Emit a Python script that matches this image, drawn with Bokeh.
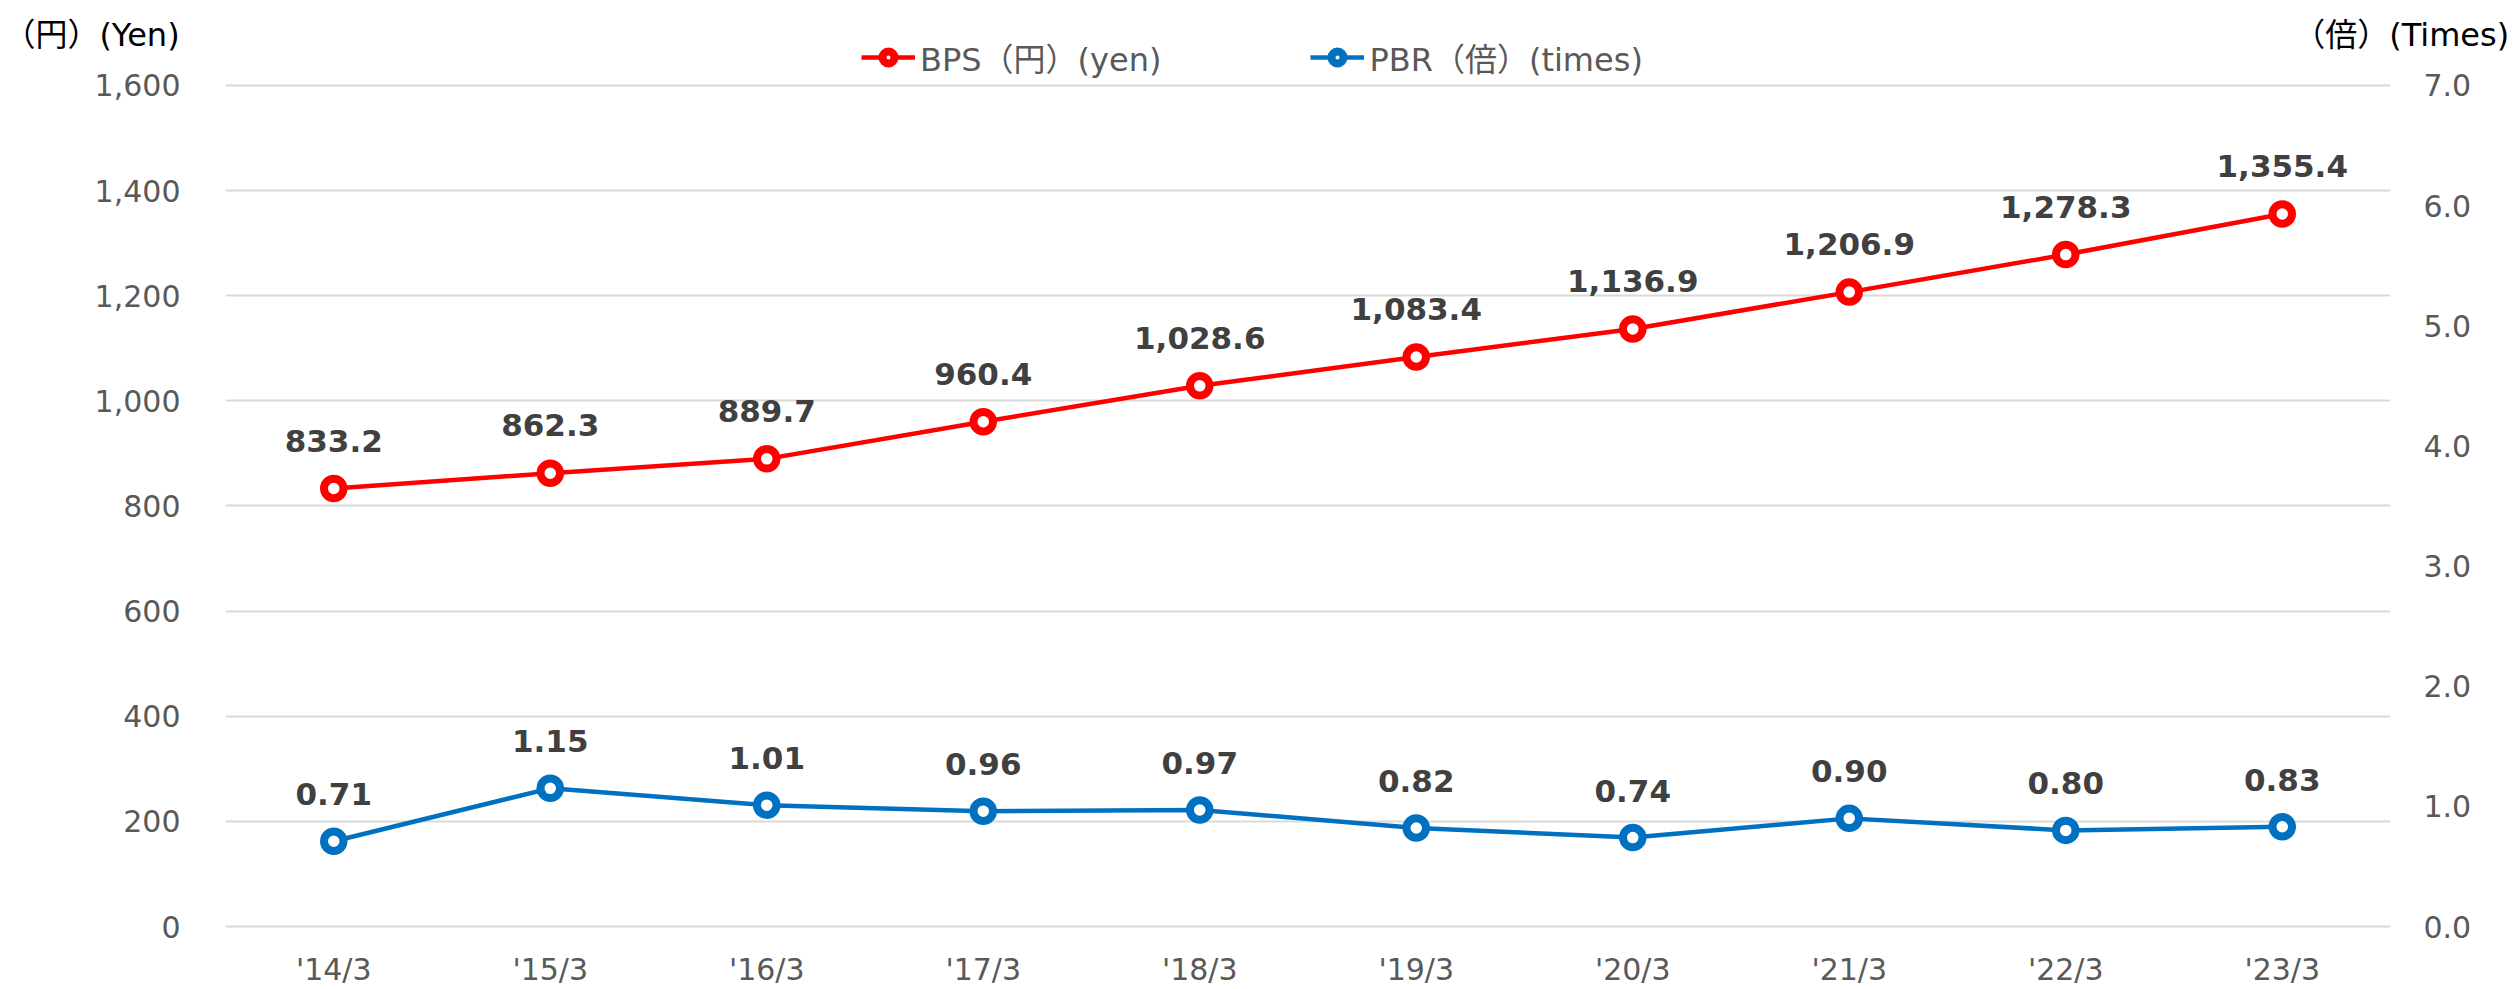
from bokeh.plotting import figure
from bokeh.models import (FactorRange, Range1d, LinearAxis, FixedTicker, NumeralTickFormatter,
                          Legend, LegendItem, ColumnDataSource)
from bokeh.core.properties import value
from bokeh.embed import file_html
from bokeh.resources import INLINE

categories = ["'14/3", "'15/3", "'16/3", "'17/3", "'18/3", "'19/3", "'20/3", "'21/3", "'22/3", "'23/3"]
bps = [833.2, 862.3, 889.7, 960.4, 1028.6, 1083.4, 1136.9, 1206.9, 1278.3, 1355.4]
pbr = [0.71, 1.15, 1.01, 0.96, 0.97, 0.82, 0.74, 0.90, 0.80, 0.83]
left_ticks = [0, 200, 400, 600, 800, 1000, 1200, 1400, 1600]
right_ticks = [0, 1, 2, 3, 4, 5, 6, 7]

RED = "#FF0000"
BLUE = "#0070C0"
GRAY = "#595959"
LBL = "#404040"
FONT = "DejaVu Sans, Noto Sans CJK JP"

# ranges (small headroom so 0 / 1600 gridlines are drawn; top space holds legend & titles)
Y0, Y1 = -3.8, 1697.0
K = 7 / 1600

src = ColumnDataSource(dict(
    x=categories, bps=bps, pbr=pbr,
    bps_txt=[f"{v:,.1f}" for v in bps],
    pbr_txt=[f"{v:.2f}" for v in pbr],
))

p = figure(width=2517, height=989, x_range=FactorRange(factors=categories),
           y_range=Range1d(Y0, Y1), output_backend="svg", toolbar_location=None,
           min_border_left=220, min_border_right=127, min_border_top=34, min_border_bottom=61)
p.outline_line_color = None
p.background_fill_color = "white"
p.border_fill_color = "white"
p.extra_y_ranges = {"pbr": Range1d(Y0 * K, Y1 * K)}

# x axis
p.xaxis.axis_line_color = None
p.xaxis.major_tick_line_color = None
p.xaxis.major_tick_out = 0
p.xaxis.major_tick_in = 0
p.xaxis.major_label_standoff = 23
p.xaxis.major_label_text_font = FONT
p.xaxis.major_label_text_font_size = "30px"
p.xaxis.major_label_text_color = GRAY

# left axis
p.yaxis.ticker = FixedTicker(ticks=left_ticks)
p.yaxis.formatter = NumeralTickFormatter(format="0,0")
p.yaxis.axis_line_color = None
p.yaxis.major_tick_line_color = None
p.yaxis.minor_tick_line_color = None
p.yaxis.major_tick_out = 0
p.yaxis.major_tick_in = 0
p.yaxis.major_label_standoff = 45
p.yaxis.major_label_text_font = FONT
p.yaxis.major_label_text_font_size = "30px"
p.yaxis.major_label_text_color = GRAY
p.yaxis.axis_label = "（円）(Yen)"
p.yaxis.axis_label_orientation = "horizontal"
p.yaxis.axis_label_align = "end"
p.yaxis.axis_label_standoff = -88
p.yaxis.axis_label_text_font = FONT
p.yaxis.axis_label_text_font_size = "32px"
p.yaxis.axis_label_text_font_style = "normal"
p.yaxis.axis_label_text_color = "#000000"

# right axis
ra = LinearAxis(y_range_name="pbr", ticker=FixedTicker(ticks=right_ticks),
                formatter=NumeralTickFormatter(format="0.0"))
ra.axis_line_color = None
ra.major_tick_line_color = None
ra.minor_tick_line_color = None
ra.major_tick_out = 0
ra.major_tick_in = 0
ra.major_label_standoff = 33
ra.major_label_text_font = FONT
ra.major_label_text_font_size = "30px"
ra.major_label_text_color = GRAY
ra.axis_label = "（倍）(Times)"
ra.axis_label_orientation = "horizontal"
ra.axis_label_align = "end"
ra.axis_label_standoff = -181
ra.axis_label_text_font = FONT
ra.axis_label_text_font_size = "32px"
ra.axis_label_text_font_style = "normal"
ra.axis_label_text_color = "#000000"
p.add_layout(ra, "right")

p.xgrid.grid_line_color = None
p.ygrid.ticker = FixedTicker(ticks=left_ticks)
p.ygrid.grid_line_color = "#D9D9D9"
p.ygrid.grid_line_width = 2

# series
l1 = p.line("x", "bps", source=src, line_color=RED, line_width=4.5)
c1 = p.scatter("x", "bps", source=src, marker="circle", size=19.5, fill_color="white",
               line_color=RED, line_width=8)
l2 = p.line("x", "pbr", source=src, y_range_name="pbr", line_color=BLUE, line_width=4.5)
c2 = p.scatter("x", "pbr", source=src, y_range_name="pbr", marker="circle", size=19.5,
               fill_color="white", line_color=BLUE, line_width=8)

p.text("x", "bps", text="bps_txt", source=src, y_offset=-48, text_align="center",
       text_baseline="alphabetic", text_font=value("DejaVu Sans"), text_font_style="bold",
       text_font_size="31px", text_color=LBL)
p.text("x", "pbr", text="pbr_txt", source=src, y_range_name="pbr", y_offset=-47,
       text_align="center", text_baseline="alphabetic", text_font=value("DejaVu Sans"),
       text_font_style="bold", text_font_size="31px", text_color=LBL)

# legend (inside the frame's top headroom)
legend = Legend(items=[LegendItem(label="BPS（円）(yen)", renderers=[l1, c1]),
                       LegendItem(label="PBR（倍）(times)", renderers=[l2, c2])],
                orientation="horizontal", location=(636, 848), padding=0, margin=0,
                spacing=149, glyph_width=54, glyph_height=30, label_standoff=5,
                border_line_color=None, background_fill_alpha=0)
legend.label_text_font = FONT
legend.label_text_font_size = "32px"
legend.label_text_color = GRAY
p.add_layout(legend, "center")

open("out.html", "w").write(file_html(p, INLINE))
